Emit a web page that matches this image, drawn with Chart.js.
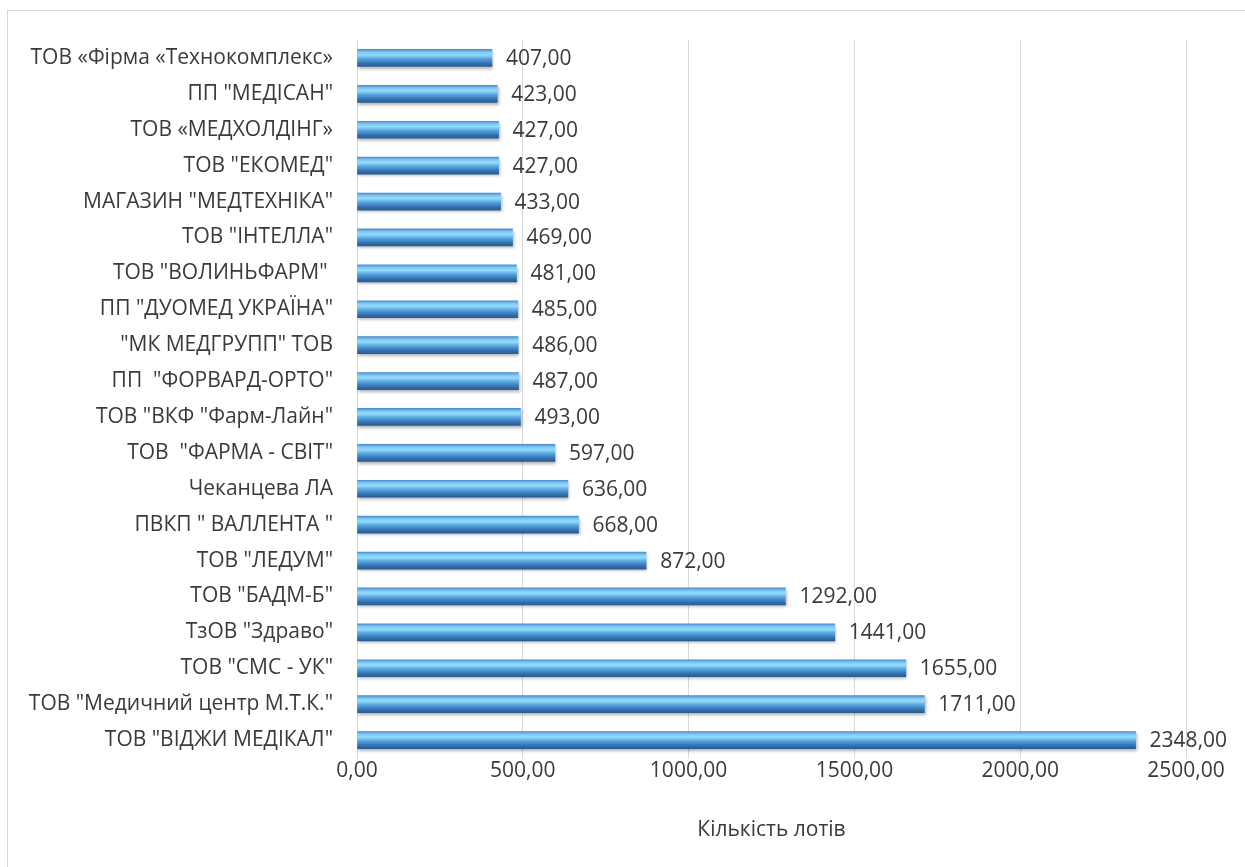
<!DOCTYPE html>
<html lang="uk">
<head>
<meta charset="utf-8">
<title>Кількість лотів</title>
<script src="https://cdn.jsdelivr.net/npm/chart.js@4/dist/chart.umd.min.js"></script>
<style>
  html, body { margin: 0; padding: 0; background: #fff; }
  #wrap { position: relative; width: 1245px; height: 867px; overflow: hidden; }
  #frame {
    position: absolute; left: 7px; top: 10px; width: 1300px; height: 900px;
    border-left: 1px solid #d9d9d9; border-top: 1px solid #d9d9d9;
  }
  #chart { position: absolute; left: 0; top: 0; }
</style>
</head>
<body>
<div id="wrap">
  <div id="frame"></div>
  <canvas id="chart" width="1245" height="867"></canvas>
</div>
<script>
// Постачальники (зверху вниз) та кількість лотів
const companies = [
  'ТОВ «Фірма «Технокомплекс»',
  'ПП "МЕДІСАН"',
  'ТОВ «МЕДХОЛДІНГ»',
  'ТОВ "ЕКОМЕД"',
  'МАГАЗИН "МЕДТЕХНІКА"',
  'ТОВ "ІНТЕЛЛА"',
  'ТОВ "ВОЛИНЬФАРМ" ',
  'ПП "ДУОМЕД УКРАЇНА"',
  '"МК МЕДГРУПП" ТОВ',
  'ПП  "ФОРВАРД-ОРТО"',
  'ТОВ "ВКФ "Фарм-Лайн"',
  'ТОВ  "ФАРМА - СВІТ"',
  'Чеканцева ЛА',
  'ПВКП " ВАЛЛЕНТА "',
  'ТОВ "ЛЕДУМ"',
  'ТОВ "БАДМ-Б"',
  'ТзОВ "Здраво"',
  'ТОВ "СМС - УК"',
  'ТОВ "Медичний центр М.Т.К."',
  'ТОВ "ВІДЖИ МЕДІКАЛ"'
];
const lots = [407, 423, 427, 427, 433, 469, 481, 485, 486, 487, 493, 597, 636, 668, 872, 1292, 1441, 1655, 1711, 2348];
const xTicks = [0, 500, 1000, 1500, 2000, 2500];
const axisTitle = 'Кількість лотів';

const FONT = { family: "'Open Sans', 'DejaVu Sans', sans-serif", size: 21 };
const TEXT = '#3a3a3a';
const BAR_H = 17;

const fmt = v => Number(v).toFixed(2).replace('.', ',');

// градієнт "трубки" для кожного бару
function barGradient(context) {
  const chart = context.chart;
  const y = chart.scales.y;
  if (!y || context.dataIndex === undefined) return '#5b9bd5';
  const cy = y.getPixelForValue(context.dataIndex);
  if (!isFinite(cy)) return '#5b9bd5';
  const g = chart.ctx.createLinearGradient(0, cy - BAR_H / 2, 0, cy + BAR_H / 2);
  g.addColorStop(0, '#4a8fd0');
  g.addColorStop(0.15, '#7cc6f2');
  g.addColorStop(0.32, '#95dcfb');
  g.addColorStop(0.55, '#55a4e0');
  g.addColorStop(0.8, '#3574b5');
  g.addColorStop(1, '#2a5b8c');
  return g;
}

const shadowPlugin = {
  id: 'barShadow',
  beforeDatasetsDraw(chart) {
    const ctx = chart.ctx;
    ctx.save();
    ctx.shadowColor = 'rgba(0,0,0,0.3)';
    ctx.shadowBlur = 3;
    ctx.shadowOffsetX = 1;
    ctx.shadowOffsetY = 2;
  },
  afterDatasetsDraw(chart) {
    chart.ctx.restore();
  }
};

const valueLabels = {
  id: 'valueLabels',
  afterDatasetsDraw(chart) {
    const ctx = chart.ctx;
    const meta = chart.getDatasetMeta(0);
    ctx.save();
    ctx.font = `${FONT.size}px ${FONT.family}`;
    ctx.fillStyle = TEXT;
    ctx.textAlign = 'left';
    ctx.textBaseline = 'middle';
    meta.data.forEach((bar, i) => {
      ctx.fillText(fmt(lots[i]), bar.x + 14, bar.y + 1);
    });
    ctx.restore();
  }
};

new Chart(document.getElementById('chart'), {
  type: 'bar',
  data: {
    labels: companies,
    datasets: [{
      label: axisTitle,
      data: lots,
      backgroundColor: barGradient,
      borderWidth: 0,
      barThickness: BAR_H
    }]
  },
  options: {
    responsive: false,
    animation: false,
    indexAxis: 'y',
    layout: { padding: { top: 40, right: 59, bottom: 0, left: 0 } },
    plugins: {
      legend: { display: false },
      tooltip: { enabled: false }
    },
    scales: {
      x: {
        min: 0,
        max: 2500,
        afterBuildTicks: s => { s.ticks = xTicks.map(v => ({ value: v })); },
        afterFit: s => { s.height = 109; },
        ticks: { color: TEXT, font: FONT, padding: 0, callback: v => fmt(v) },
        grid: { color: '#d9d9d9', drawTicks: false },
        border: { display: false },
        title: {
          display: true,
          text: axisTitle,
          color: TEXT,
          font: FONT,
          padding: { top: 0, bottom: 24 }
        }
      },
      y: {
        afterFit: s => { s.width = 357; },
        ticks: { color: TEXT, font: FONT, padding: 24, autoSkip: false },
        grid: { display: false, drawTicks: false },
        border: { display: true, color: '#d9d9d9' }
      }
    }
  },
  plugins: [shadowPlugin, valueLabels]
});
</script>
</body>
</html>
